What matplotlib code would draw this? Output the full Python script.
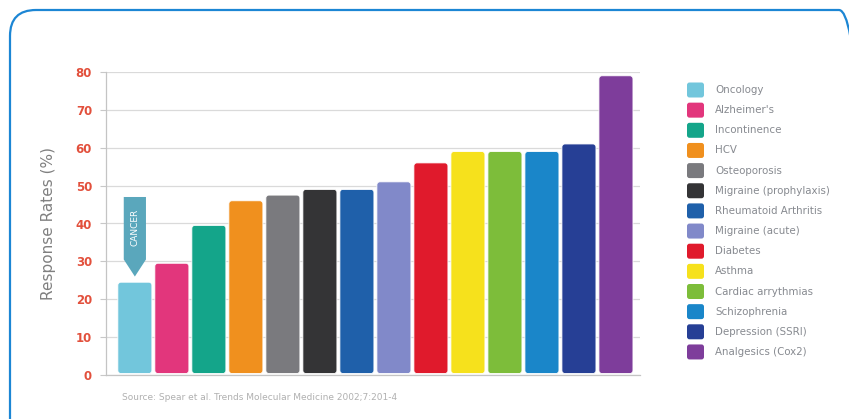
import matplotlib.pyplot as plt
from matplotlib.patches import FancyBboxPatch, Polygon
from matplotlib.transforms import IdentityTransform

# data
areas = ['Oncology', "Alzheimer's", 'Incontinence', 'HCV', 'Osteoporosis',
         'Migraine (prophylaxis)', 'Rheumatoid Arthritis', 'Migraine (acute)',
         'Diabetes', 'Asthma', 'Cardiac arrythmias', 'Schizophrenia',
         'Depression (SSRI)', 'Analgesics (Cox2)']
rates = [24.5, 29.5, 39.5, 46, 47.5, 49, 49, 51, 56, 59, 59, 59, 61, 79]
colors = ['#72C6DC', '#E2367C', '#14A58A', '#F0901E', '#7A7A7E', '#343436',
          '#1F60AA', '#8189C9', '#E01A2C', '#F6E11C', '#7DBD3A', '#1A86C9',
          '#263F95', '#7E3D9B']
yticks = [0, 10, 20, 30, 40, 50, 60, 70, 80]
source = 'Source: Spear et al. Trends Molecular Medicine 2002;7:201-4'

W, H = 849, 419
fig = plt.figure(figsize=(W / 100, H / 100), dpi=100)
ax = fig.add_axes([106 / W, 1 - 375 / H, (640 - 106) / W, (375 - 72) / H])

x = list(range(len(rates)))
bars = ax.bar(x, rates, width=0.92, color=colors)

# swap plain bars for rounded ones, same geometry
for b in bars:
    bx, by = b.get_x(), b.get_y()
    bw, bh = b.get_width(), b.get_height()
    r = FancyBboxPatch((bx, by + 0.4), bw, bh - 0.4,
                       boxstyle='round,pad=0,rounding_size=0.08',
                       mutation_aspect=10, facecolor=b.get_facecolor(),
                       edgecolor='white', linewidth=0.6, zorder=3)
    ax.add_patch(r)
    b.set_visible(False)

ax.set_xlim(-0.78, 13.65)
ax.set_ylim(0, 80)
ax.set_yticks(yticks)
ax.set_xticks([])
ax.yaxis.grid(True, color='#DADADA', lw=0.9)
ax.set_axisbelow(True)
for s in ['top', 'right']:
    ax.spines[s].set_visible(False)
for s in ['left', 'bottom']:
    ax.spines[s].set_color('#C4C4C4')
    ax.spines[s].set_linewidth(0.9)
ax.tick_params(axis='y', colors='#C8C8C8', length=4, width=0.8, pad=6)
for t in ax.get_yticklabels():
    t.set_color('#E2503C')
    t.set_fontweight('bold')
    t.set_fontsize(8.5)
ax.set_ylabel('Response Rates (%)', color='#808080', fontsize=11, labelpad=14)

# CANCER marker above the oncology bar
arrow = Polygon([(-0.3, 47), (0.3, 47), (0.3, 30.5), (0, 26), (-0.3, 30.5)],
                closed=True, facecolor='#5AA7BC', edgecolor='none', zorder=4)
ax.add_patch(arrow)
ax.text(0, 39, 'CANCER', rotation=90, color='white', fontsize=6.5,
        ha='center', va='center', zorder=5)

# legend drawn by hand with rounded swatches
tr = IdentityTransform()
for i, (lab, c) in enumerate(zip(areas, colors)):
    yc = H - (90 + i * 20.15)
    fig.patches.append(FancyBboxPatch((687, yc - 7.5), 17, 15,
                                      boxstyle='round,pad=0,rounding_size=2.5',
                                      facecolor=c, edgecolor='none',
                                      transform=tr, figure=fig))
    fig.text(715 / W, yc / H, lab, color='#878A90', fontsize=7.4,
             ha='left', va='center')

fig.text(122 / W, 1 - 397 / H, source, color='#B0B0B0', fontsize=6.5,
         ha='left', va='center')

# blue rounded frame, cut by the picture edges
fig.patches.append(FancyBboxPatch((10, -40), 855, H - 10 + 40,
                                  boxstyle='round,pad=0,rounding_size=26',
                                  facecolor='none', edgecolor='#1C86D4',
                                  linewidth=1.6, transform=tr, figure=fig))

fig.savefig('out.png', dpi=100)
